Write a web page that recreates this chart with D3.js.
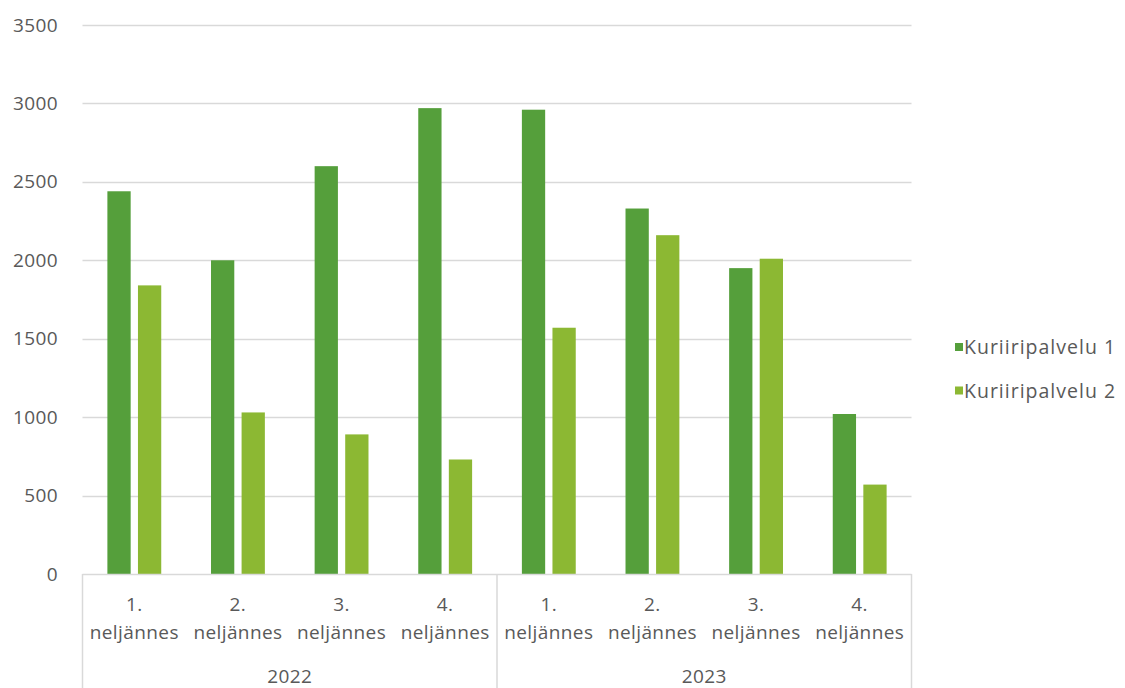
<!DOCTYPE html>
<html>
<head>
<meta charset="utf-8">
<script src="https://cdn.jsdelivr.net/npm/d3@7"></script>
<style>
  html, body { margin: 0; padding: 0; background: #fff; }
  svg { display: block; }
  text { font-family: "Open Sans", "Segoe UI", sans-serif; fill: #595959; }
</style>
</head>
<body>
<svg id="chart" width="1125" height="688"></svg>
<script>
const years = ["2022", "2023"];
const quarters = ["1.", "2.", "3.", "4."];
const quarterWord = "neljännes";
const seriesNames = ["Kuriiripalvelu 1", "Kuriiripalvelu 2"];
const series1 = [2440, 2000, 2600, 2970, 2960, 2330, 1950, 1020];
const series2 = [1840, 1030, 890, 730, 1570, 2160, 2010, 570];
const yTicks = [0, 500, 1000, 1500, 2000, 2500, 3000, 3500];
const colors = ["#559f3b", "#8cb833"];

const svg = d3.select("#chart");
const plotLeft = 82.5, plotRight = 911.5, plotTop = 25, plotBottom = 574;
const fs = 19, ls = 0.4;

const cats = [];
years.forEach(yr => quarters.forEach(q => cats.push(yr + "|" + q)));
const data = cats.map((c, i) => ({ cat: c, vals: [series1[i], series2[i]] }));

const x0 = d3.scaleBand().domain(cats).range([plotLeft, plotRight]).paddingInner(0).paddingOuter(0);
const x1 = d3.scaleBand().domain([0, 1]).range([0, x0.bandwidth()]).paddingInner(0.2386).paddingOuter(0.814);
const y = d3.scaleLinear().domain([0, 3500]).range([plotBottom, plotTop]);

// gridlines
svg.append("g").selectAll("line").data(yTicks.filter(t => t > 0)).join("line")
  .attr("x1", plotLeft).attr("x2", plotRight)
  .attr("y1", d => Math.round(y(d)) + 0.5).attr("y2", d => Math.round(y(d)) + 0.5)
  .attr("stroke", "#d9d9d9").attr("stroke-width", 1.5);

// y axis labels
const yAxis = d3.axisLeft(y).tickValues(yTicks).tickFormat(d3.format("d")).tickSize(0).tickPadding(0);
const yg = svg.append("g").attr("transform", `translate(58,0)`).call(yAxis);
yg.select(".domain").remove();
yg.selectAll("text").attr("font-size", fs).attr("fill", "#595959").attr("letter-spacing", ls)
  .style("font-family", "'Open Sans', sans-serif");

// bars
const g = svg.append("g");
g.selectAll("g").data(data).join("g")
  .attr("transform", d => `translate(${x0(d.cat)},0)`)
  .selectAll("rect").data(d => d.vals.map((v, k) => ({ v, k }))).join("rect")
  .attr("x", d => x1(d.k)).attr("width", x1.bandwidth())
  .attr("y", d => y(d.v)).attr("height", d => y(0) - y(d.v))
  .attr("fill", d => colors[d.k]);

// x axis frame
const axisColor = "#d9d9d9";
svg.append("line").attr("x1", plotLeft).attr("x2", plotRight).attr("y1", plotBottom + 0.5).attr("y2", plotBottom + 0.5)
  .attr("stroke", axisColor).attr("stroke-width", 1.5);
const boundaries = [x0(cats[0]), x0(cats[4]), plotRight];
svg.append("g").selectAll("line").data(boundaries).join("line")
  .attr("x1", d => d).attr("x2", d => d).attr("y1", plotBottom).attr("y2", 688)
  .attr("stroke", axisColor).attr("stroke-width", 1.5);

// category labels
const xg = svg.append("g");
cats.forEach(c => {
  const q = c.split("|")[1];
  const cx = x0(c) + x0.bandwidth() / 2;
  xg.append("text").attr("x", cx).attr("y", 611).attr("text-anchor", "middle").attr("font-size", fs).attr("letter-spacing", ls).text(q);
  xg.append("text").attr("x", cx).attr("y", 639).attr("text-anchor", "middle").attr("font-size", fs).attr("letter-spacing", ls).text(quarterWord);
});
years.forEach((yr, i) => {
  const a = x0(cats[i * 4]), b = x0(cats[i * 4 + 3]) + x0.bandwidth();
  xg.append("text").attr("x", (a + b) / 2).attr("y", 683).attr("text-anchor", "middle").attr("font-size", fs).attr("letter-spacing", ls).text(yr);
});

// legend
const lg = svg.append("g");
seriesNames.forEach((n, i) => {
  const cy = 347 + i * 43.5;
  lg.append("rect").attr("x", 955).attr("y", cy - 4).attr("width", 8).attr("height", 8).attr("fill", colors[i]);
  lg.append("text").attr("x", 964).attr("y", cy + 7).attr("font-size", 19.5).attr("letter-spacing", 1).text(n);
});
</script>
</body>
</html>
